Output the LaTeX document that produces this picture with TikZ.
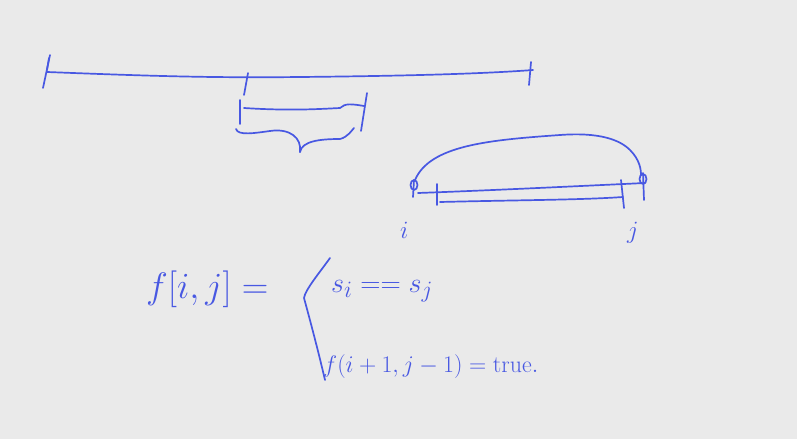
\documentclass[tikz,border=0pt]{standalone}
\usepackage{graphicx}
\usepackage{tikz}
\definecolor{ink}{RGB}{72,88,226}
\definecolor{board}{RGB}{234,234,234}
\tikzset{pen/.style={draw=ink,line width=1.7pt,line cap=round,line join=round},
         hand/.style={text=ink,font=\fontsize{24.88}{25}\selectfont,inner sep=0pt,anchor=base west}}

\begin{document}
\begin{tikzpicture}[x=1pt,y=-1pt]
            \fill[board] (0,0) rectangle (797,439);
            \useasboundingbox (0,0) rectangle (797,439);
            % long segment
            \begin{scope}
                \draw[pen] (47,72) .. controls (150,76) and (210,78) .. (300,77)
                           .. controls (400,76) and (480,74) .. (533,70);
                \draw[pen] (43,88) -- (50,55);
                \draw[pen] (49,58) -- (47,70);
                \draw[pen] (531,62) -- (529,85);
                \draw[pen] (248,73) -- (244,95);
            \end{scope}
            % sub-interval and brace
            \begin{scope}
                \draw[pen] (240,100) -- (240,124);
                \draw[pen] (244,108) .. controls (290,111) and (320,109) .. (340,108)
                           .. controls (345,103) and (352,104) .. (364,106);
                \draw[pen] (367,93) -- (361,131);
                \draw[pen] (236,129) .. controls (238,136) and (255,133) .. (270,131)
                           .. controls (290,128) and (302,138) .. (300,152);
                \draw[pen] (300,152) .. controls (302,141) and (320,139) .. (340,139)
                           .. controls (348,137) and (352,130) .. (354,128);
            \end{scope}
            % i..j with arc
            \begin{scope}
                \draw[pen] (415,180) .. controls (430,145) and (490,140) .. (560,135)
                           .. controls (600,132) and (620,140) .. (630,150)
                           .. controls (640,160) and (641,170) .. (641,175);
                \draw[pen] (414,185) circle[x radius=3.5,y radius=5];
                \draw[pen] (414,180) -- (413,197);
                \draw[pen] (643,179) circle[x radius=3.5,y radius=5];
                \draw[pen] (643,173) -- (644,200);
                \draw[pen] (418,193) .. controls (500,190) and (580,186) .. (645,183);
                \draw[pen] (437,184) -- (437,205);
                \draw[pen] (440,202) .. controls (520,200) and (580,200) .. (623,197);
                \draw[pen] (621,180) -- (624,208);
                \node[hand] (li) at (400,238) {$i$};
                \node[hand] (lj) at (627,238) {$j$};
            \end{scope}
            % recurrence
            \begin{scope}
                \node[hand] (lhs) at (146,298) {\scalebox{1.48}{$f[i,j] =$}};
                \draw[pen] (330,258) .. controls (320,272) and (305,290) .. (304,298)
                           .. controls (310,320) and (318,350) .. (325,380);
                \node[hand] (cond) at (331,292) {\scalebox{1.13}{$s_i == s_j$}};
                \node[hand] (rec) at (323,372) {\scalebox{0.96}{$f(i+1,j-1) = \mathrm{true}.$}};
            \end{scope}
        \end{tikzpicture}
\end{document}
